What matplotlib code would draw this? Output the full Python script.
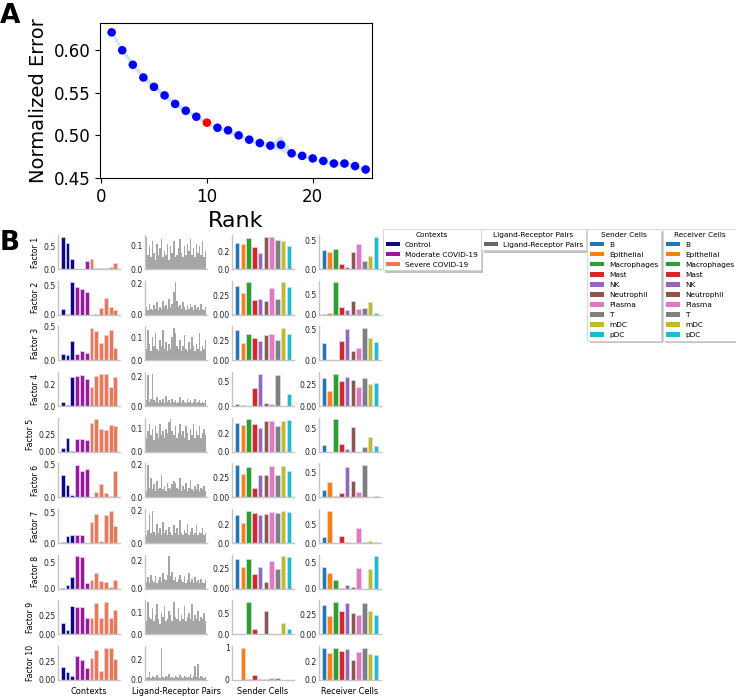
import matplotlib
matplotlib.use("Agg")
import matplotlib.pyplot as plt
from matplotlib.patches import Patch, Rectangle
from matplotlib.transforms import IdentityTransform
import numpy as np

# ---------------- Panel A data ----------------
ranks = list(range(1, 26))
norm_error = [0.621, 0.600, 0.583, 0.568, 0.557, 0.547, 0.537, 0.529, 0.522, 0.515,
              0.509, 0.506, 0.500, 0.495, 0.491, 0.488, 0.489, 0.479, 0.476, 0.473,
              0.470, 0.467, 0.467, 0.464, 0.460]
band_hi = [0.624, 0.603, 0.587, 0.572, 0.560, 0.550, 0.540, 0.532, 0.524, 0.517,
           0.511, 0.508, 0.502, 0.497, 0.494, 0.492, 0.500, 0.481, 0.478, 0.475,
           0.472, 0.469, 0.471, 0.466, 0.462]
band_lo = [0.618, 0.597, 0.580, 0.565, 0.554, 0.544, 0.534, 0.526, 0.520, 0.513,
           0.507, 0.503, 0.498, 0.493, 0.489, 0.485, 0.482, 0.476, 0.474, 0.471,
           0.468, 0.465, 0.464, 0.462, 0.458]
selected_rank = 10

# ---------------- Panel B data ----------------
factors = ["Factor %d" % i for i in range(1, 11)]
context_names = ["Control", "Moderate COVID-19", "Severe COVID-19"]
context_groups = [0, 0, 0, 1, 1, 1, 2, 2, 2, 2, 2, 2]
cell_types = ["B", "Epithelial", "Macrophages", "Mast", "NK", "Neutrophil",
              "Plasma", "T", "mDC", "pDC"]

contexts = [
    [0.71, 0.58, 0.22, 0.01, 0.01, 0.18, 0.22, 0.02, 0.02, 0.02, 0.04, 0.13],
    [0.10, 0.02, 0.55, 0.47, 0.43, 0.38, 0.00, 0.01, 0.12, 0.29, 0.13, 0.08],
    [0.09, 0.08, 0.28, 0.10, 0.14, 0.11, 0.48, 0.44, 0.25, 0.37, 0.45, 0.18],
    [0.04, 0.01, 0.27, 0.28, 0.29, 0.25, 0.18, 0.28, 0.30, 0.30, 0.18, 0.27],
    [0.05, 0.20, 0.01, 0.19, 0.19, 0.17, 0.42, 0.47, 0.33, 0.31, 0.39, 0.37],
    [0.35, 0.19, 0.03, 0.50, 0.41, 0.44, 0.00, 0.08, 0.21, 0.07, 0.02, 0.40],
    [0.02, 0.11, 0.14, 0.14, 0.13, 0.00, 0.35, 0.48, 0.04, 0.46, 0.54, 0.29],
    [0.01, 0.07, 0.23, 0.63, 0.61, 0.11, 0.17, 0.31, 0.15, 0.13, 0.03, 0.16],
    [0.15, 0.06, 0.37, 0.35, 0.35, 0.21, 0.21, 0.40, 0.21, 0.42, 0.21, 0.32],
    [0.18, 0.11, 0.05, 0.32, 0.27, 0.16, 0.30, 0.40, 0.12, 0.44, 0.44, 0.29],
]

lr_pairs = [
    [0.14, 0.06, 0.10, 0.05, 0.12, 0.07, 0.04, 0.11, 0.06, 0.09, 0.13, 0.05, 0.08, 0.06, 0.11, 0.04, 0.10, 0.07, 0.12, 0.05,
     0.06, 0.09, 0.13, 0.07, 0.05, 0.10, 0.06, 0.11, 0.08, 0.13, 0.06, 0.09, 0.05, 0.11, 0.07, 0.10, 0.06, 0.12, 0.05, 0.08],
    [0.05, 0.03, 0.07, 0.04, 0.03, 0.06, 0.04, 0.08, 0.03, 0.05, 0.04, 0.09, 0.05, 0.06, 0.04, 0.10, 0.05, 0.07, 0.15, 0.21,
     0.09, 0.05, 0.06, 0.04, 0.08, 0.05, 0.03, 0.06, 0.04, 0.07, 0.05, 0.03, 0.06, 0.04, 0.05, 0.03, 0.07, 0.04, 0.03, 0.05],
    [0.05, 0.13, 0.07, 0.04, 0.10, 0.06, 0.12, 0.05, 0.04, 0.09, 0.06, 0.13, 0.05, 0.08, 0.04, 0.07, 0.05, 0.10, 0.14, 0.12,
     0.06, 0.05, 0.09, 0.04, 0.06, 0.11, 0.05, 0.04, 0.08, 0.05, 0.10, 0.06, 0.04, 0.07, 0.05, 0.12, 0.04, 0.06, 0.05, 0.09],
    [0.04, 0.21, 0.03, 0.05, 0.22, 0.04, 0.03, 0.06, 0.02, 0.04, 0.03, 0.05, 0.02, 0.07, 0.03, 0.04, 0.02, 0.05, 0.03, 0.04,
     0.02, 0.03, 0.06, 0.02, 0.04, 0.03, 0.02, 0.05, 0.03, 0.04, 0.02, 0.03, 0.05, 0.02, 0.03, 0.04, 0.02, 0.03, 0.02, 0.04],
    [0.06, 0.09, 0.12, 0.07, 0.10, 0.05, 0.11, 0.08, 0.06, 0.12, 0.07, 0.09, 0.06, 0.10, 0.08, 0.13, 0.14, 0.09, 0.07, 0.11,
     0.06, 0.08, 0.12, 0.07, 0.09, 0.06, 0.11, 0.08, 0.05, 0.10, 0.07, 0.12, 0.06, 0.09, 0.07, 0.11, 0.06, 0.08, 0.10, 0.07],
    [0.04, 0.20, 0.06, 0.12, 0.05, 0.08, 0.04, 0.10, 0.05, 0.06, 0.14, 0.05, 0.07, 0.04, 0.09, 0.06, 0.05, 0.08, 0.10, 0.09,
     0.06, 0.05, 0.12, 0.04, 0.07, 0.05, 0.09, 0.04, 0.06, 0.11, 0.05, 0.04, 0.07, 0.05, 0.08, 0.04, 0.06, 0.05, 0.07, 0.04],
    [0.05, 0.08, 0.18, 0.06, 0.20, 0.07, 0.05, 0.12, 0.06, 0.09, 0.05, 0.13, 0.06, 0.08, 0.05, 0.10, 0.07, 0.05, 0.11, 0.06,
     0.09, 0.05, 0.14, 0.06, 0.05, 0.08, 0.06, 0.12, 0.05, 0.07, 0.09, 0.05, 0.06, 0.11, 0.05, 0.07, 0.06, 0.09, 0.05, 0.06],
    [0.05, 0.08, 0.04, 0.10, 0.06, 0.05, 0.09, 0.04, 0.06, 0.08, 0.05, 0.11, 0.07, 0.06, 0.10, 0.23, 0.09, 0.12, 0.06, 0.08,
     0.05, 0.07, 0.10, 0.06, 0.05, 0.09, 0.04, 0.06, 0.11, 0.05, 0.07, 0.04, 0.08, 0.05, 0.06, 0.04, 0.07, 0.05, 0.04, 0.06],
    [0.06, 0.15, 0.08, 0.07, 0.12, 0.06, 0.09, 0.14, 0.07, 0.05, 0.10, 0.08, 0.13, 0.06, 0.07, 0.11, 0.09, 0.06, 0.15, 0.08,
     0.07, 0.12, 0.06, 0.09, 0.07, 0.13, 0.06, 0.08, 0.10, 0.07, 0.14, 0.06, 0.09, 0.07, 0.11, 0.06, 0.08, 0.07, 0.10, 0.06],
    [0.02, 0.03, 0.08, 0.02, 0.04, 0.03, 0.02, 0.05, 0.03, 0.02, 0.31, 0.03, 0.02, 0.04, 0.03, 0.06, 0.02, 0.03, 0.02, 0.04,
     0.03, 0.02, 0.05, 0.03, 0.02, 0.04, 0.03, 0.02, 0.03, 0.06, 0.02, 0.04, 0.13, 0.03, 0.15, 0.02, 0.04, 0.03, 0.02, 0.03],
]

sender = [
    [0.30, 0.29, 0.36, 0.26, 0.19, 0.38, 0.38, 0.34, 0.33, 0.27],
    [0.38, 0.29, 0.43, 0.20, 0.21, 0.18, 0.35, 0.21, 0.43, 0.37],
    [0.37, 0.22, 0.33, 0.28, 0.24, 0.31, 0.33, 0.25, 0.40, 0.33],
    [0.05, 0.02, 0.00, 0.37, 0.65, 0.06, 0.04, 0.62, 0.01, 0.25],
    [0.31, 0.29, 0.35, 0.30, 0.26, 0.33, 0.33, 0.28, 0.33, 0.34],
    [0.40, 0.29, 0.37, 0.11, 0.28, 0.28, 0.39, 0.28, 0.39, 0.33],
    [0.30, 0.22, 0.35, 0.32, 0.30, 0.31, 0.33, 0.32, 0.35, 0.34],
    [0.38, 0.27, 0.38, 0.18, 0.27, 0.09, 0.35, 0.25, 0.41, 0.40],
    [0.00, 0.01, 0.78, 0.13, 0.00, 0.56, 0.00, 0.00, 0.28, 0.14],
    [0.00, 1.00, 0.03, 0.15, 0.02, 0.03, 0.06, 0.07, 0.01, 0.00],
]

receiver = [
    [0.33, 0.30, 0.35, 0.08, 0.04, 0.29, 0.43, 0.14, 0.23, 0.56],
    [0.02, 0.03, 0.79, 0.19, 0.11, 0.33, 0.15, 0.16, 0.30, 0.04],
    [0.28, 0.00, 0.00, 0.32, 0.51, 0.16, 0.20, 0.53, 0.37, 0.30],
    [0.32, 0.17, 0.37, 0.28, 0.33, 0.30, 0.22, 0.32, 0.25, 0.26],
    [0.15, 0.00, 0.71, 0.16, 0.05, 0.53, 0.00, 0.11, 0.32, 0.12],
    [0.14, 0.31, 0.02, 0.09, 0.60, 0.33, 0.11, 0.64, 0.01, 0.03],
    [0.15, 0.88, 0.00, 0.19, 0.02, 0.00, 0.40, 0.03, 0.05, 0.03],
    [0.42, 0.31, 0.16, 0.02, 0.08, 0.04, 0.40, 0.00, 0.39, 0.63],
    [0.36, 0.23, 0.40, 0.29, 0.39, 0.26, 0.24, 0.39, 0.29, 0.24],
    [0.35, 0.30, 0.36, 0.32, 0.34, 0.22, 0.31, 0.36, 0.29, 0.28],
]

yticks_ctx = [[0, 0.5], [0, 0.5], [0, 0.5], [0, 0.2], [0, 0.25], [0, 0.5], [0, 0.5], [0, 0.5], [0, 0.25], [0, 0.25]]
yticks_lr = [[0, 0.1], [0, 0.2], [0, 0.1], [0, 0.2], [0, 0.1], [0, 0.2], [0, 0.2], [0, 0.2], [0, 0.1], [0, 0.2]]
yticks_snd = [[0, 0.2], [0, 0.25], [0, 0.25], [0, 0.5], [0, 0.2], [0, 0.25], [0, 0.2], [0, 0.25], [0, 0.5], [0, 1]]
yticks_rcv = [[0, 0.5], [0, 0.5], [0, 0.5], [0, 0.25], [0, 0.5], [0, 0.5], [0, 0.5], [0, 0.5], [0, 0.25], [0, 0.2]]

col_titles = ["Contexts", "Ligand-Receptor Pairs", "Sender Cells", "Receiver Cells"]

# ---------------- styles ----------------
ctx_colors = ["#0d0887", "#9c179e", "#ed7953"]
cell_colors = ["#1f77b4", "#ff7f0e", "#2ca02c", "#d62728", "#9467bd",
               "#8c564b", "#e377c2", "#7f7f7f", "#bcbd22", "#17becf"]
lr_color = "#666666"
small = 5.6
leg_fs = 5.3

W, H = 736, 697
fig = plt.figure(figsize=(W / 100, H / 100), dpi=100)

# ---------------- Panel A ----------------
axA = fig.add_axes([100 / W, 1 - 178 / H, 272 / W, 155 / H])
axA.fill_between(ranks, band_lo, band_hi, color="#1f77b4", alpha=0.2, linewidth=0)
cols = ["red" if r == selected_rank else "blue" for r in ranks]
axA.scatter(ranks, norm_error, s=38, c=cols, zorder=3, linewidths=0)
axA.set_xlim(-0.1, 25.6)
axA.set_ylim(0.45, 0.632)
axA.set_yticks([0.45, 0.50, 0.55, 0.60])
axA.set_xticks([0, 10, 20])
axA.tick_params(labelsize=12)
axA.set_xlabel("Rank", fontsize=16)
axA.set_ylabel("Normalized Error", fontsize=14)
fig.text(0.0, 1 - 23 / H, "A", fontsize=19, fontweight="bold")

# ---------------- Panel B ----------------
gs = fig.add_gridspec(10, 4, left=58 / W, right=381 / W, top=1 - 235 / H,
                      bottom=1 - 680 / H, wspace=0.40, hspace=0.34)


def style(ax, ticks):
    for s in ["top", "right"]:
        ax.spines[s].set_visible(False)
    for s in ["left", "bottom"]:
        ax.spines[s].set_color("#c4c4c4")
        ax.spines[s].set_linewidth(1.0)
    ax.set_xticks([])
    ax.set_yticks(ticks)
    ax.tick_params(axis="y", length=0, pad=1.5, labelsize=small, labelcolor="#222222")


edge = "#dcdcee"
bottom_axes = []
for i in range(10):
    ax = fig.add_subplot(gs[i, 0])
    x = np.arange(len(contexts[i]))
    ax.bar(x, contexts[i], width=0.8, color=[ctx_colors[g] for g in context_groups],
           edgecolor=edge, linewidth=0.5)
    style(ax, yticks_ctx[i])
    ax.set_ylabel(factors[i], fontsize=small, labelpad=3)
    row = [ax]

    ax = fig.add_subplot(gs[i, 1])
    x = np.arange(len(lr_pairs[i]))
    ax.bar(x, lr_pairs[i], width=1.0, color="#3a3a3a", alpha=0.45, linewidth=0)
    ax.set_xlim(-1.0, len(lr_pairs[i]))
    style(ax, yticks_lr[i])
    row.append(ax)

    ax = fig.add_subplot(gs[i, 2])
    x = np.arange(len(sender[i]))
    ax.bar(x, sender[i], width=0.8, color=cell_colors, edgecolor=edge, linewidth=0.5)
    style(ax, yticks_snd[i])
    row.append(ax)

    ax = fig.add_subplot(gs[i, 3])
    x = np.arange(len(receiver[i]))
    ax.bar(x, receiver[i], width=0.8, color=cell_colors, edgecolor=edge, linewidth=0.5)
    style(ax, yticks_rcv[i])
    row.append(ax)
    bottom_axes = row

for j, ax in enumerate(bottom_axes):
    ax.set_xlabel(col_titles[j], fontsize=small + 0.3, labelpad=5)

fig.text(0.0, 1 - 250 / H, "B", fontsize=19, fontweight="bold")

# ---------------- legends ----------------
legends = []


def add_legend(title, labels, colors, x_px):
    handles = [Patch(facecolor=c, label=l) for c, l in zip(colors, labels)]
    leg = fig.legend(handles=handles, title=title, loc="upper left",
                     bbox_to_anchor=(x_px / W, 1 - 229 / H), fontsize=leg_fs,
                     title_fontsize=leg_fs, shadow=False, fancybox=False,
                     framealpha=1, borderaxespad=0, handlelength=2.0,
                     labelspacing=0.55, handletextpad=0.65, borderpad=0.35,
                     handleheight=0.6)
    leg.get_frame().set_edgecolor("#d0d0d0")
    leg.get_frame().set_linewidth(0.6)
    legends.append(leg)
    return leg


add_legend("Contexts", context_names, ctx_colors, 383)
add_legend("Ligand-Receptor Pairs", ["Ligand-Receptor Pairs"], [lr_color], 481)
add_legend("Sender Cells", cell_types, cell_colors, 587)
add_legend("Receiver Cells", cell_types, cell_colors, 663)

fig.canvas.draw()
for leg in legends:
    bb = leg.get_window_extent()
    sh = Rectangle((bb.x0 + 2.5, bb.y0 - 2.5), bb.width, bb.height,
                   transform=IdentityTransform(), facecolor="#9a9a9a",
                   edgecolor="none", alpha=0.6, zorder=leg.get_zorder() - 0.5)
    fig.add_artist(sh)

fig.savefig("out.png", dpi=100)
